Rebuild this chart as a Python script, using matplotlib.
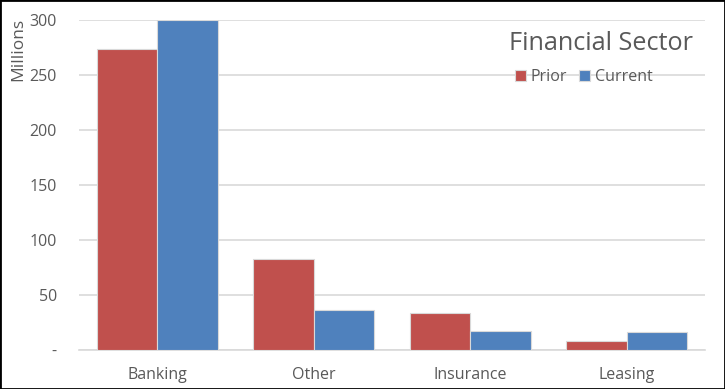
import numpy as np
import matplotlib
matplotlib.use("Agg")
import matplotlib.pyplot as plt

categories = ["Banking", "Other", "Insurance", "Leasing"]
prior = [273.5, 82.5, 33.5, 8.5]
current = [300, 36.5, 17.3, 16.4]
yticks = [0, 50, 100, 150, 200, 250, 300]
ytick_labels = ["-", "50", "100", "150", "200", "250", "300"]

plt.rcParams['font.family'] = ['Open Sans', 'DejaVu Sans']
grey = '#595959'

fig = plt.figure(figsize=(7.25, 3.89), dpi=100)
ax = fig.add_axes([79 / 725, 39 / 389, 626 / 725, 330 / 389])

x = np.arange(len(categories))
w = 0.387
ax.bar(x - w / 2, prior, w, color='#C0504D', edgecolor='#d9d9d9', linewidth=0.8,
       label='Prior', zorder=3)
ax.bar(x + w / 2, current, w, color='#4F81BD', edgecolor='#d9d9d9', linewidth=0.8,
       label='Current', zorder=3)

ax.set_xlim(-0.5, len(categories) - 0.5)
ax.set_ylim(0, 300)
ax.set_yticks(yticks)
ax.set_yticklabels(ytick_labels)
ax.set_xticks(x)
ax.set_xticklabels(categories)
ax.yaxis.grid(True, color='#d9d9d9', linewidth=1.2, zorder=0)
ax.tick_params(axis='both', length=0, colors=grey, labelsize=11.5)
ax.tick_params(axis='y', pad=16)
ax.tick_params(axis='x', pad=12)
for s in ['top', 'right', 'left']:
    ax.spines[s].set_visible(False)
ax.spines['bottom'].set_color('#d9d9d9')
ax.spines['bottom'].set_linewidth(1.2)

fig.text(18 / 725, 1 - 18 / 389, "Millions", rotation=90, ha='center', va='top',
         color=grey, fontsize=12.5)
fig.text(601 / 725, 1 - 43 / 389, "Financial Sector", ha='center', va='center',
         color=grey, fontsize=18.2)
ax.legend(loc='upper left', bbox_to_anchor=(515 / 725, 1 - 69 / 389),
          bbox_transform=fig.transFigure, ncol=2, frameon=False,
          handlelength=0.7, handleheight=0.7, handletextpad=0.3, columnspacing=0.7,
          borderpad=0, borderaxespad=0, fontsize=11.5, labelcolor=grey)

fig.patches.append(plt.Rectangle((0, 0), 1, 1, transform=fig.transFigure, fill=False,
                                 edgecolor='black', linewidth=2))
fig.savefig("out.png", dpi=100)
